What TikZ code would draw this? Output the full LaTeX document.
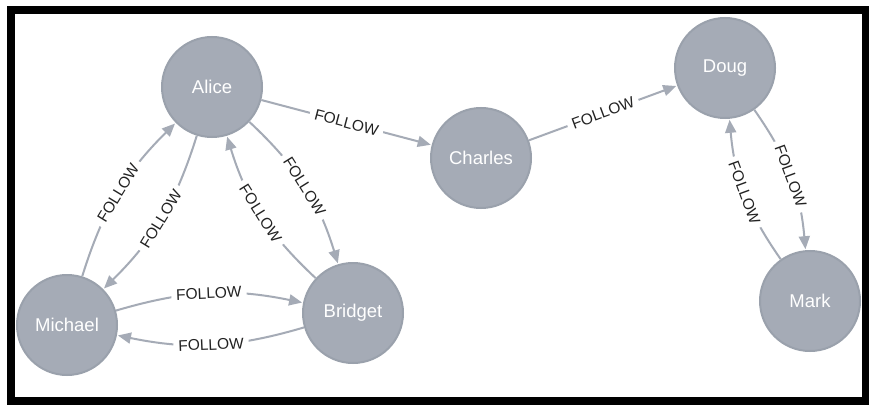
\documentclass[tikz,border=0pt]{standalone}
\usepackage{fontspec}
\setmainfont{Liberation Sans}
\usetikzlibrary{arrows.meta}
\definecolor{nodegray}{HTML}{A5ABB6}
\definecolor{nodeborder}{HTML}{9AA1AC}
\definecolor{labeltext}{HTML}{222222}
\tikzset{
  person/.style={circle, fill=nodegray, draw=nodeborder, line width=2pt,
    minimum size=100pt, inner sep=0pt, text=white,
    font=\fontsize{18.5}{20}\selectfont},
  rel/.style={draw=nodegray, line width=2pt,
    -{Triangle[length=13pt,width=11pt]}, shorten >=1pt},
  rellabel/.style={sloped, midway, fill=white, text=labeltext,
    inner xsep=5pt, inner ysep=1pt, font=\fontsize{15.5}{17}\selectfont}
}
\begin{document}
\begin{tikzpicture}[x=1pt, y=-1pt]
\useasboundingbox (0,0) rectangle (869,406);
\fill[white] (0,0) rectangle (869,406);
\draw[line width=8pt, black] (11,10) rectangle (865.5,401);

\node[person] (alice) at (212,87) {Alice};
\node[person] (charles) at (481,158) {Charles};
\node[person] (doug) at (725,68) {Doug};
\node[person] (mark) at (810,301) {Mark};
\node[person] (michael) at (67,325) {Michael};
\node[person] (bridget) at (353,313) {Bridget};

\draw[rel] (alice) -- node[rellabel] {FOLLOW} (charles);
\draw[rel] (charles) -- node[rellabel] {FOLLOW} (doug);
\draw[rel] (michael) to[bend left=14] node[rellabel] {FOLLOW} (alice);
\draw[rel] (alice) to[bend left=14] node[rellabel] {FOLLOW} (michael);
\draw[rel] (alice) to[bend left=15] node[rellabel] {FOLLOW} (bridget);
\draw[rel] (bridget) to[bend left=15] node[rellabel] {FOLLOW} (alice);
\draw[rel] (michael) to[bend left=14] node[rellabel] {FOLLOW} (bridget);
\draw[rel] (bridget) to[bend left=14] node[rellabel] {FOLLOW} (michael);
\draw[rel] (doug) to[bend left=15] node[rellabel] {FOLLOW} (mark);
\draw[rel] (mark) to[bend left=15] node[rellabel] {FOLLOW} (doug);
\end{tikzpicture}
\end{document}
